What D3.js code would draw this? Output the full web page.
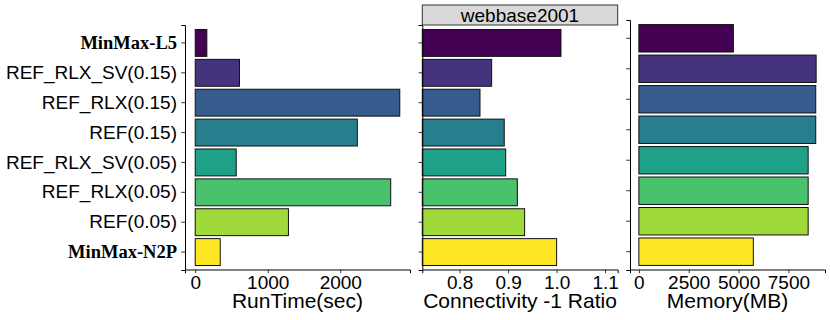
<!DOCTYPE html>
<html lang="en">
<head>
    <meta charset="UTF-8">
    <title>webbase2001</title>
    <script src="https://d3js.org/d3.v7.min.js"></script>
    <style>
        body { margin: 0; background: white; }
    </style>
</head>
<body>
<script>

// categories, top to bottom
const methods = ["MinMax-L5", "REF_RLX_SV(0.15)", "REF_RLX(0.15)", "REF(0.15)",
                 "REF_RLX_SV(0.05)", "REF_RLX(0.05)", "REF(0.05)", "MinMax-N2P"]
const boldMethods = ["MinMax-L5", "MinMax-N2P"]

// values
const runtime = [160, 610, 2820, 2235, 565, 2695, 1285, 345]
const ratio = [1.009, 0.866, 0.842, 0.892, 0.895, 0.919, 0.934, 1.0]
const memory = [4740, 8890, 8870, 8870, 8490, 8490, 8490, 5740]

// tick labels
const runtimeTicks = [0, 1000, 2000]
const ratioTicks = [0.8, 0.9, 1.0, 1.1]
const memoryTicks = [0, 2500, 5000, 7500]

const datasetName = "webbase2001"
const viridis = ["#440154", "#46337E", "#365C8D", "#277F8E", "#1FA187", "#4AC16D", "#9FDA3A", "#FDE725"]

const colorscale = d3.scaleOrdinal().domain(methods).range(viridis)

var canvas = d3.select("body")
    .append("svg")
    .attr("width", 830)
    .attr("height", 320)
    .style("font-family", "'Liberation Sans', Arial, sans-serif")

// one panel = bars + axes + title
function drawPanel(opt) {
    var values = opt.values
    var x = d3.scaleLinear().domain(opt.domain).range([opt.left, opt.right])
    var y = d3.scaleBand().domain(methods).range([opt.top, opt.bottom])
        .paddingInner(0.1).paddingOuter(0.15)

    var g = canvas.append("g")

    // bars start at 0, or at the panel edge when 0 is off the scale
    var x0 = Math.max(x(0), opt.left)
    g.selectAll(".bar")
        .data(methods)
        .enter()
        .append("rect")
        .attr("class", "bar")
        .attr("x", x0)
        .attr("y", d => y(d))
        .attr("width", (d, i) => x(values[i]) - x0)
        .attr("height", y.bandwidth())
        .attr("fill", d => colorscale(d))
        .attr("stroke", "#111")
        .attr("stroke-width", 1)

    // y axis
    var yAxis = g.append("g")
        .attr("transform", "translate(" + opt.left + ",0)")
        .call(d3.axisLeft(y).tickSizeOuter(0).tickSize(3.7).tickPadding(4.3))
    yAxis.select(".domain").attr("stroke", "black").attr("stroke-width", 1)
    yAxis.selectAll(".tick line").attr("stroke", "#333")
    if (opt.labels) {
        yAxis.selectAll(".tick text")
            .attr("fill", "black")
            .style("font-size", d => boldMethods.includes(d) ? "18.5px" : "19px")
            .style("font-family", d => boldMethods.includes(d)
                ? "'Liberation Serif', 'Times New Roman', serif" : null)
            .style("font-weight", d => boldMethods.includes(d) ? "bold" : null)
    } else {
        yAxis.selectAll(".tick text").remove()
    }

    // x axis
    var xAxis = g.append("g")
        .attr("transform", "translate(0," + (opt.bottom - 0.5) + ")")
        .call(d3.axisBottom(x).tickValues(opt.ticks).tickFormat(opt.format)
            .tickSizeOuter(0).tickSize(3.7).tickPadding(2.3))
    xAxis.select(".domain").attr("stroke", "black").attr("stroke-width", 1)
    xAxis.selectAll(".tick line").attr("stroke", "#333")
    xAxis.selectAll(".tick text").attr("fill", "black").style("font-size", "19px")
    xAxis.selectAll("text").attr("font-family", null)
    yAxis.attr("font-family", null)
    xAxis.attr("font-family", null)

    // axis title
    g.append("text")
        .attr("x", (opt.left + opt.right) / 2)
        .attr("y", 308)
        .attr("text-anchor", "middle")
        .style("font-size", "21px")
        .text(opt.title)

    // facet strip
    if (opt.strip) {
        g.append("rect")
            .attr("x", opt.left)
            .attr("y", 5)
            .attr("width", opt.right - opt.left)
            .attr("height", 20)
            .attr("fill", "#D9D9D9")
            .attr("stroke", "#333")
            .attr("stroke-width", 1)
        g.append("text")
            .attr("x", (opt.left + opt.right) / 2)
            .attr("y", 21.5)
            .attr("text-anchor", "middle")
            .style("font-size", "19px")
            .text(opt.strip)
    }
}

var runMax = d3.max(runtime)
var memMax = d3.max(memory)

drawPanel({
    values: runtime, domain: [-0.05 * runMax, 1.05 * runMax],
    left: 185, right: 410, top: 25, bottom: 270,
    ticks: runtimeTicks, format: d3.format("d"),
    title: "RunTime(sec)", labels: true
})

drawPanel({
    values: ratio, domain: [0.723, 1.126],
    left: 422.3, right: 617.7, top: 25, bottom: 270,
    ticks: ratioTicks, format: d3.format(".1f"),
    title: "Connectivity -1 Ratio", labels: false, strip: datasetName
})

drawPanel({
    values: memory, domain: [-0.05 * memMax, 1.05 * memMax],
    left: 630, right: 825, top: 20, bottom: 270,
    ticks: memoryTicks, format: d3.format("d"),
    title: "Memory(MB)", labels: false
})

</script>
</body>
</html>
